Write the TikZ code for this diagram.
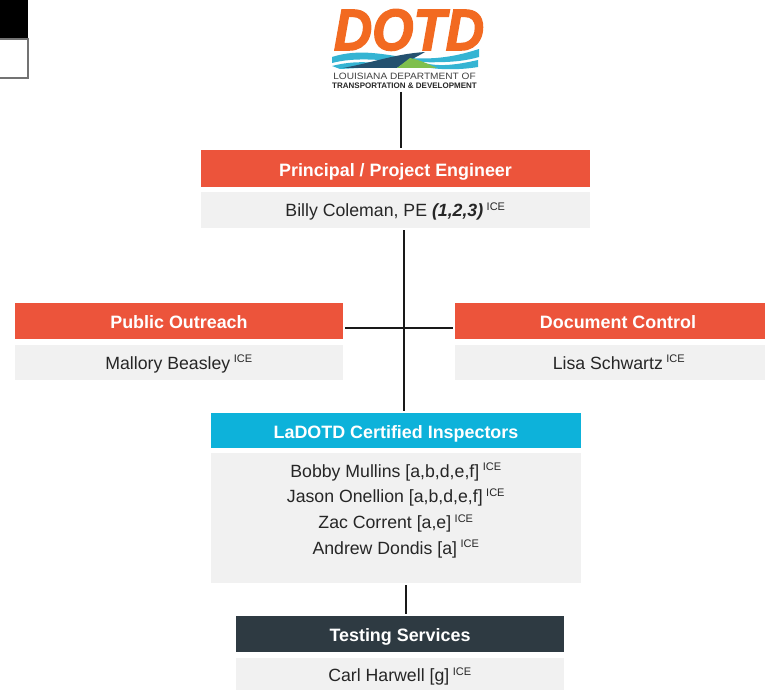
\documentclass[tikz,border=0pt]{standalone}
\usepackage{fontspec}
\setmainfont{Liberation Sans}
\newfontfamily\logofont[FakeBold=2.6]{Liberation Sans}
\definecolor{hred}{HTML}{EC543B}
\definecolor{hblue}{HTML}{0DB2DA}
\definecolor{hdark}{HTML}{2E3A42}
\definecolor{bodyg}{HTML}{F1F1F1}
\definecolor{dorange}{HTML}{F26A21}
\definecolor{dblue}{HTML}{35B4D3}
\definecolor{dnavy}{HTML}{24516F}
\definecolor{dgreen}{HTML}{7FBF4D}
\newcommand{\ice}{\hspace{3.5pt}\textsuperscript{\fontsize{11}{11}\selectfont ICE}}
\tikzset{
 head/.style={draw=none,fill=#1,minimum height=36.5,text=white,font=\fontsize{17.9}{20}\selectfont\bfseries,inner sep=0,text height=15.3,text depth=0},
 bodybase/.style={draw=none,fill=bodyg,text=black!85,font=\fontsize{17.7}{21}\selectfont,inner sep=0,align=center},
 bodybox/.style={bodybase,text height=13,text depth=0},
 link/.style={line width=2,black!90,shorten <=2pt,shorten >=2pt},
}
\begin{document}
\begin{tikzpicture}[x=1pt,y=-1pt]
\useasboundingbox (0,0) rectangle (765,690);
% top-left legend fragment
\fill[black] (0,0) rectangle (28,39);
\draw[black!55,line width=1.4] (0,39) -- (28,39) -- (28,78) -- (0,78);
% logo
\node[anchor=base,inner sep=0,text=dorange,font=\fontsize{53}{53}\logofont\bfseries\itshape,yscale=1.1] (logotext) at (409,50) {DOTD};
\fill[dblue] (332,57) .. controls (360,48) and (385,55) .. (410,58) .. controls (440,60) and (460,55) .. (479,49) -- (479,57) .. controls (455,64) and (430,62) .. (405,62) .. controls (380,60) and (355,57) .. (332,63) -- cycle;
\fill[dblue] (332,66) .. controls (355,60) and (375,62) .. (395,66) -- (340,69) -- cycle;
\fill[dblue] (420,62) .. controls (440,68) and (460,64) .. (478,60) -- (478,67) .. controls (460,70) and (440,70) .. (425,67) -- cycle;
\fill[dnavy] (343,68) .. controls (375,62) and (395,54) .. (425,52) .. controls (415,58) and (405,62) .. (397,68) -- cycle;
\fill[dgreen] (397,68) -- (410,58) .. controls (420,60) and (428,64) .. (437,68) -- cycle;
\node[inner sep=0,font=\fontsize{9.2}{10}\selectfont,text=black!75,xscale=1.1] (logol1) at (404.5,76) {LOUISIANA DEPARTMENT OF};
\node[inner sep=0,font=\fontsize{8}{9}\selectfont\bfseries,text=black!85] (logol2) at (404.5,86) {TRANSPORTATION \& DEVELOPMENT};
\coordinate (logob) at (401,90);
% boxes
\node[head=hred,minimum width=389] (pe) at (395.5,168.5) {Principal / Project Engineer};
\node[bodybox,minimum width=389,minimum height=36] (peb) at (395.5,210) {Billy Coleman, PE \textbf{\textit{(1,2,3)}}\ice};
\node[head=hred,minimum width=328] (po) at (179,321) {Public Outreach};
\node[bodybox,minimum width=328,minimum height=35] (pob) at (179,362.5) {Mallory Beasley\ice};
\node[head=hred,minimum width=310] (dc) at (610,321) {\hspace*{16pt}Document Control};
\node[bodybox,minimum width=310,minimum height=35] (dcb) at (610,362.5) {\hspace*{18pt}Lisa Schwartz\ice};
\node[head=hblue,minimum width=370,minimum height=35] (ci) at (396,430.5) {LaDOTD Certified Inspectors};
\node[bodybase,minimum width=370,minimum height=130,anchor=north] (cib) at (396,453) {};
\node[bodybase,fill=none,anchor=north,font=\fontsize{17.7}{25.7}\selectfont] (cit) at (396,463) {Bobby Mullins [a,b,d,e,f]\ice\\Jason Onellion [a,b,d,e,f]\ice\\Zac Corrent [a,e]\ice\\Andrew Dondis [a]\ice};
\node[head=hdark,minimum width=328] (ts) at (400,634) {Testing Services};
\node[bodybox,minimum width=328,minimum height=32,text height=15] (tsb) at (400,674) {Carl Harwell [g]\ice};
% connectors
\draw[link] (logob) -- (logob |- pe.north);
\draw[link] (peb.south -| 404,0) -- (ci.north -| 404,0);
\draw[link] (pob.north east |- 0,327.5) -- (dcb.north west |- 0,327.5);
\draw[link] (cib.south -| 406,0) -- (ts.north -| 406,0);
\end{tikzpicture}
\end{document}
